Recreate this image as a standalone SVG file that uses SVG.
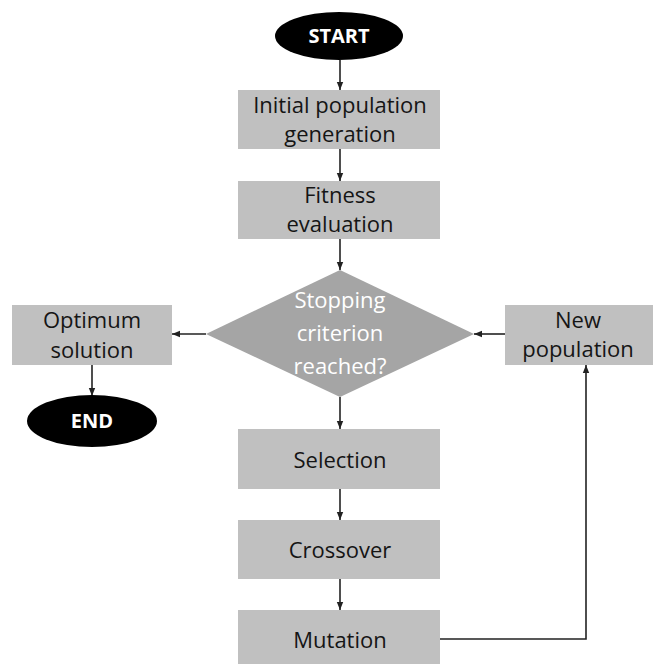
<svg xmlns="http://www.w3.org/2000/svg" width="653" height="664" viewBox="0 0 653 664">
<style>
.box{fill:#c0c0c0;}
.dia{fill:#a5a5a5;}
.term{fill:#000;}
.t{font-family:"Open Sans","Liberation Sans",sans-serif;font-size:22px;fill:#151515;text-anchor:middle;}
.tw{font-family:"Open Sans","Liberation Sans",sans-serif;font-size:22px;fill:#fff;text-anchor:middle;}
.tb{font-family:"Open Sans","Liberation Sans",sans-serif;font-size:20px;font-weight:bold;fill:#fff;text-anchor:middle;}
.c{stroke:#222;stroke-width:1.6;fill:none;marker-end:url(#ah);}
</style>
<defs>
<marker id="ah" viewBox="0 0 10 10" refX="10" refY="5" markerWidth="8" markerHeight="8" markerUnits="userSpaceOnUse" orient="auto"><path d="M0,1 L10,5 L0,9 z" fill="#222"/></marker>
</defs>
<rect width="653" height="664" fill="#fff"/>
<g id="connectors">
<line class="c" x1="340" y1="60" x2="340" y2="90"/>
<line class="c" x1="340" y1="149" x2="340" y2="181"/>
<line class="c" x1="340" y1="239" x2="340" y2="270"/>
<line class="c" x1="206" y1="334" x2="172" y2="334"/>
<line class="c" x1="505" y1="334" x2="474" y2="334"/>
<line class="c" x1="92" y1="365" x2="92" y2="396"/>
<line class="c" x1="340" y1="397" x2="340" y2="429"/>
<line class="c" x1="340" y1="489" x2="340" y2="520"/>
<line class="c" x1="340" y1="579" x2="340" y2="610"/>
<polyline class="c" points="439,639 586,639 586,365"/>
</g>
<g id="start"><ellipse class="term" cx="339" cy="36" rx="64" ry="24"/><text class="tb" x="339" y="43">START</text></g>
<g id="init"><rect class="box" x="238" y="90" width="202" height="59"/><text class="t" x="340" y="113">Initial population</text><text class="t" x="340" y="142">generation</text></g>
<g id="fitness"><rect class="box" x="238" y="181" width="202" height="58"/><text class="t" x="340" y="203">Fitness</text><text class="t" x="340" y="232">evaluation</text></g>
<g id="stop"><polygon class="dia" points="340,270 474,334 340,397 206,334"/><text class="tw" x="340" y="308">Stopping</text><text class="tw" x="340" y="341">criterion</text><text class="tw" x="340" y="374">reached?</text></g>
<g id="optimum"><rect class="box" x="12" y="305" width="160" height="60"/><text class="t" x="92" y="328">Optimum</text><text class="t" x="92" y="358">solution</text></g>
<g id="newpop"><rect class="box" x="505" y="305" width="148" height="60"/><text class="t" x="578" y="328">New</text><text class="t" x="578" y="357">population</text></g>
<g id="end"><ellipse class="term" cx="92" cy="421" rx="65" ry="26"/><text class="tb" x="92" y="428">END</text></g>
<g id="selection"><rect class="box" x="238" y="429" width="202" height="60"/><text class="t" x="340" y="468">Selection</text></g>
<g id="crossover"><rect class="box" x="238" y="520" width="202" height="59"/><text class="t" x="340" y="558">Crossover</text></g>
<g id="mutation"><rect class="box" x="238" y="610" width="202" height="60"/><text class="t" x="340" y="648">Mutation</text></g>
</svg>
